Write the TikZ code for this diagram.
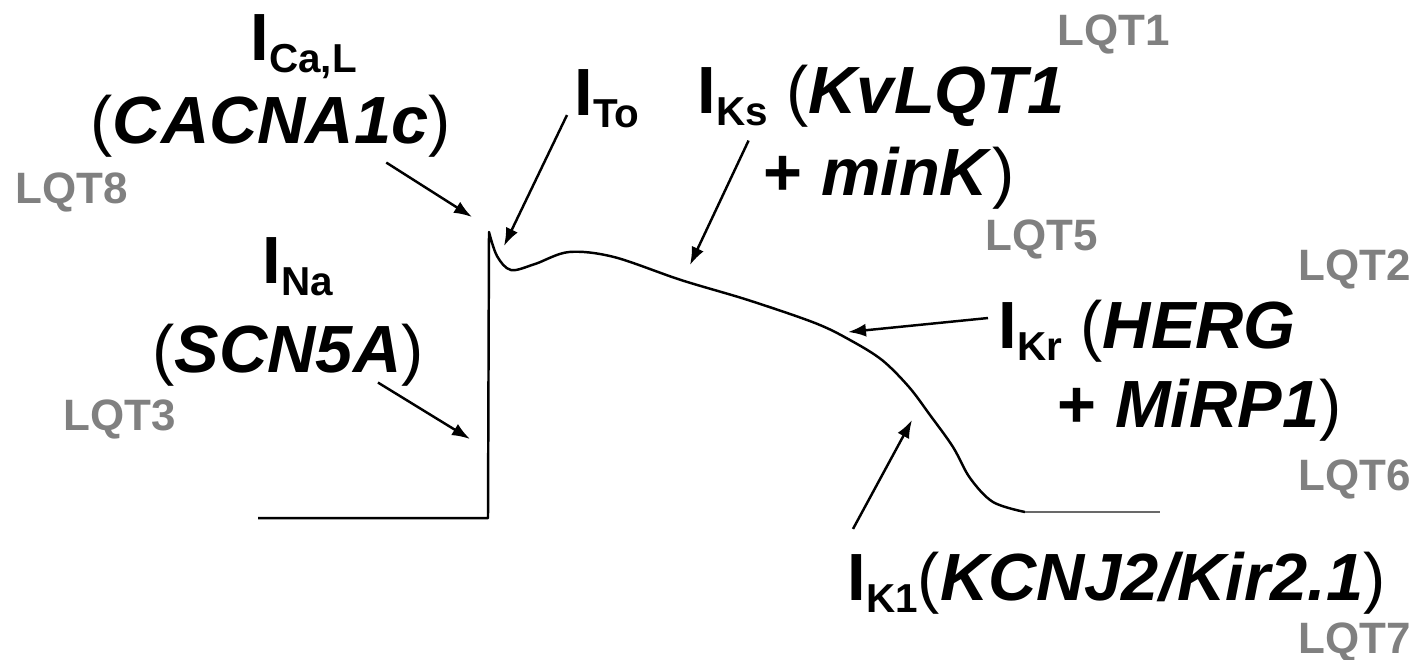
\documentclass[tikz,border=0pt]{standalone}
\usepackage{fontspec}
\setmainfont{Liberation Sans}
\usetikzlibrary{arrows.meta,calc}

\definecolor{lqtgray}{RGB}{128,128,128}
\definecolor{tailgray}{RGB}{105,105,105}

% current with its subscript, gene name, plain brackets
\newcommand{\curr}[1]{I\raisebox{-1.2mm}{\fontsize{11.5pt}{12pt}\selectfont #1}}
\newcommand{\gene}[1]{\textit{#1}}
\newcommand{\po}{{\mdseries(}}
\newcommand{\pc}{{\mdseries)}}

\tikzset{
  lbl/.style={anchor=base west, inner sep=0pt, font=\fontsize{19pt}{22pt}\selectfont\bfseries},
  lqt/.style={anchor=base west, inner sep=0pt, text=lqtgray, font=\fontsize{12.5pt}{14pt}\selectfont\bfseries},
  arr/.style={-{Latex[length=1.8mm,width=1.3mm]}, line width=0.7pt},
  trace/.style={line width=0.7pt, line join=round}
}

\begin{document}
\begin{tikzpicture}[x=0.1mm,y=-0.1mm]
\useasboundingbox (0,0) rectangle (1418,659);

% --- Currents and genes ---
\node[lbl] (ical)  at (250,60)   {\curr{Ca,L}};
\node[lbl] (cacna) at (90,143)   {\po\gene{CACNA1c}\pc};
\node[lbl] (ina)   at (262,283)  {\curr{Na}};
\node[lbl] (scn)   at (152,372)  {\po\gene{SCN5A}\pc};
\node[lbl] (ito)   at (574,115)  {\curr{To}};
\node[lbl] (iks)   at (697,113)  {\curr{Ks} \po\gene{KvLQT1}};
\node[lbl] (mink)  at (763,195)  {+ \gene{minK}\pc};
\node[lbl] (ikr)   at (998,348)  {\curr{Kr} \po\gene{HERG}};
\node[lbl] (mirp)  at (1057,427) {+ \gene{MiRP1}\pc};
\node[lbl] (ik1)   at (847,600)  {\curr{K1}\po\gene{KCNJ2/Kir2.1}\pc};

% --- LQT types ---
\foreach \n/\x/\y in {8/15/203, 3/63/430, 1/1057/45, 5/985/250,
                      2/1298/280, 6/1298/490, 7/1298/653}
  \node[lqt] (lqt\n) at (\x,\y) {LQT\n};

% --- Action potential ---
\draw[trace] (258,518) -- (488,518) -- (489,232)
  -- plot[smooth, tension=0.55] coordinates {(489,232) (497,256) (511,270)
     (535,264) (569,252) (614,257) (681,280) (748,300) (815,323) (850,340)
     (882,360) (909,387) (930,415) (953,447) (970,478) (993,502) (1025,512)};
\draw[trace, tailgray] (1025,512) -- (1160,512);

% --- Arrow tips on the trace ---
\coordinate (tCa) at (472,217);
\coordinate (tNa) at (470,439);
\coordinate (tTo) at (504,246);
\coordinate (tKs) at (690,265);
\coordinate (tKr) at (848,332);
\coordinate (tK1) at (912,420);

\draw[arr] ($(cacna.south west)!0.82!(cacna.south east)+(0,5)$) -- (tCa);
\draw[arr] ($(scn.south west)!0.83!(scn.south east)+(0,-4)$) -- (tNa);
\draw[arr] ($(ito.base west)+(-7,0)$) -- (tTo);
\draw[arr] ($(iks.south west)!0.14!(iks.south east)+(0,13)$) -- (tKs);
\draw[arr] ($(ikr.base west)+(-10,-30)$) -- (tKr);
\draw[arr] ($(ik1.north west)+(6,-22)$) -- (tK1);

\end{tikzpicture}
\end{document}
